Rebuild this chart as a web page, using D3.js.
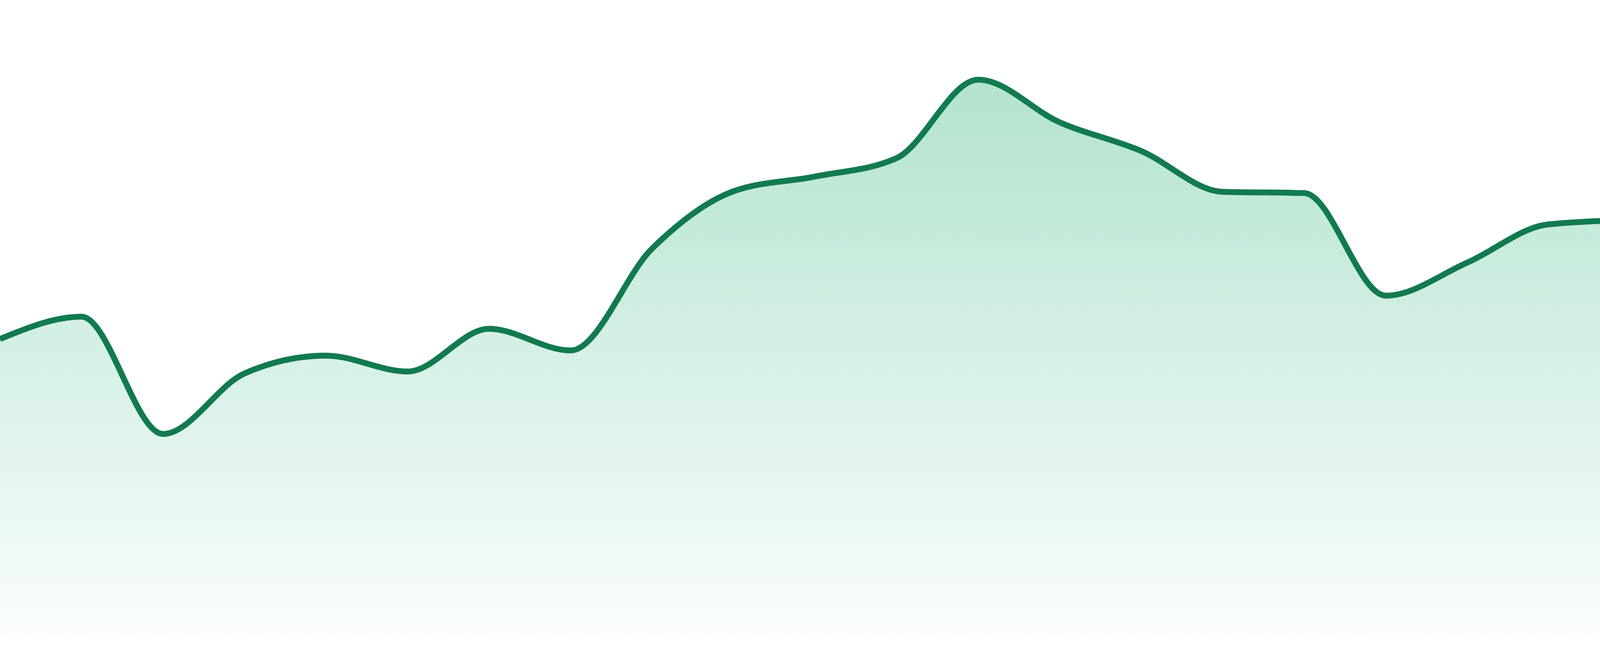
<!DOCTYPE html>
<html>
<head>
<meta charset="utf-8">
<script src="https://cdn.jsdelivr.net/npm/d3@7"></script>
<style>
  body { margin: 0; background: #fff; }
</style>
</head>
<body>
<div id="chart-area"></div>
<script>
// 24 daily points
var days = ["D1", "D2", "D3", "D4", "D5", "D6", "D7", "D8", "D9", "D10", "D11", "D12",
            "D13", "D14", "D15", "D16", "D17", "D18", "D19", "D20", "D21", "D22", "D23", "D24"];
var values = [46.8, 50.3, 31.9, 41.4, 44.2, 41.7, 48.4, 45.0, 61.0, 70.0, 72.3, 75.2,
              87.5, 80.8, 76.3, 69.9, 69.7, 53.6, 58.8, 64.8, 65.4, 64.0, 62.7, 63.7];
var yTicks = [0, 100];

var width = 4800;
var height = 1680;
var bottom = 1632;

var data = days.map(function (d, i) {
    return { day: d, value: values[i] };
});

var svg = d3.select("#chart-area")
    .append("svg")
    .attr("width", width)
    .attr("height", height);

var x = d3.scalePoint()
    .domain(days)
    .range([0, width]);

var y = d3.scaleLinear()
    .domain([yTicks[0], yTicks[1]])
    .range([bottom, 0]);

// gradient under the line
var grad = svg.append("defs")
    .append("linearGradient")
    .attr("id", "fillGrad")
    .attr("gradientUnits", "userSpaceOnUse")
    .attr("x1", 0).attr("x2", 0)
    .attr("y1", y(d3.max(values)))
    .attr("y2", bottom);

grad.append("stop")
    .attr("offset", "0%")
    .attr("stop-color", "#2eb47a")
    .attr("stop-opacity", 0.37);
grad.append("stop")
    .attr("offset", "100%")
    .attr("stop-color", "#2eb47a")
    .attr("stop-opacity", 0.02);

var area = d3.area()
    .x(function (d) { return x(d.day); })
    .y0(bottom)
    .y1(function (d) { return y(d.value); })
    .curve(d3.curveMonotoneX);

var line = d3.line()
    .x(function (d) { return x(d.day); })
    .y(function (d) { return y(d.value); })
    .curve(d3.curveMonotoneX);

svg.append("path")
    .datum(data)
    .attr("d", area)
    .attr("fill", "url(#fillGrad)");

svg.append("path")
    .datum(data)
    .attr("d", line)
    .attr("fill", "none")
    .attr("stroke", "#127a50")
    .attr("stroke-width", 15)
    .attr("stroke-linejoin", "round");
</script>
</body>
</html>
